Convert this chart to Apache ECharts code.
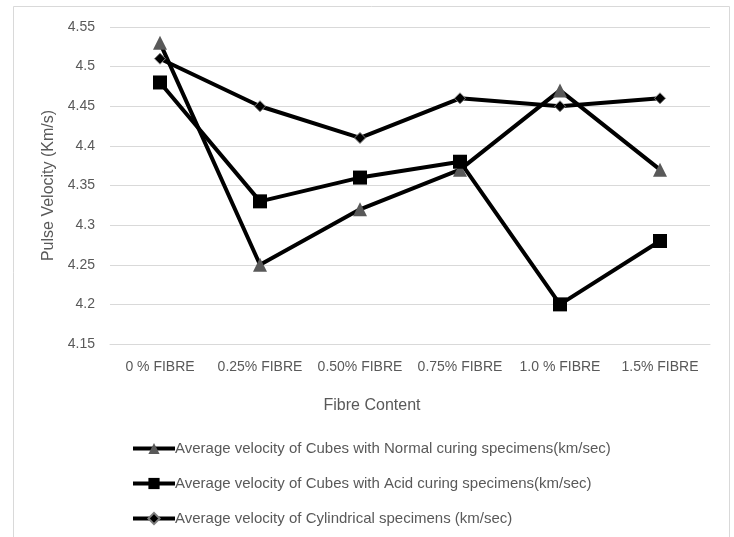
<!DOCTYPE html>
<html>
<head>
<meta charset="utf-8">
<script src="https://cdn.jsdelivr.net/npm/echarts@6/dist/echarts.min.js"></script>
<style>html,body{margin:0;padding:0;background:#fff}#c{width:734px;height:537px}</style>
</head>
<body>
<div id="c"></div>
<script>
var categories = ['0 % FIBRE', '0.25% FIBRE', '0.50% FIBRE', '0.75% FIBRE', '1.0 % FIBRE', '1.5% FIBRE'];
var normalCuring = [4.53, 4.25, 4.32, 4.37, 4.47, 4.37];
var acidCuring = [4.48, 4.33, 4.36, 4.38, 4.20, 4.28];
var cylindrical = [4.51, 4.45, 4.41, 4.46, 4.45, 4.46];
var seriesNames = [
  'Average velocity of Cubes with Normal curing specimens(km/sec)',
  'Average velocity of Cubes with Acid curing specimens(km/sec)',
  'Average velocity of Cylindrical specimens (km/sec)'
];
var yTicks = { min: 4.15, max: 4.55, interval: 0.05 };

var font = 'Liberation Sans';
var txt = '#595959';
var chart = echarts.init(document.getElementById('c'));
chart.setOption({
  animation: false,
  backgroundColor: '#fff',
  textStyle: { fontFamily: font },
  grid: { left: 110, right: 24, top: 27, bottom: 193 },
  graphic: [
    { type: 'rect', shape: { x: 13.5, y: 6.5, width: 716, height: 620 }, style: { fill: 'none', stroke: '#d9d9d9', lineWidth: 1 }, silent: true },
    { type: 'text', style: { text: 'Fibre Content', x: 372, y: 406, textAlign: 'center', textVerticalAlign: 'middle', fill: txt, font: '16px ' + font } }
  ],
  legend: {
    orient: 'vertical',
    left: 126, top: 436,
    itemWidth: 42, itemHeight: 14, itemGap: 20,
    lineStyle: { width: 4, color: '#000' },
    textStyle: { color: txt, fontSize: 15, fontFamily: font, padding: [0, 0, 0, -5] },
    data: seriesNames
  },
  xAxis: {
    type: 'category',
    data: categories,
    boundaryGap: true,
    axisLine: { show: true, lineStyle: { color: '#d9d9d9', width: 1 } },
    axisTick: { show: false },
    axisLabel: { color: txt, fontSize: 14, fontFamily: font, margin: 16, interval: 0 }
  },
  yAxis: {
    type: 'value',
    min: yTicks.min, max: yTicks.max, interval: yTicks.interval,
    name: 'Pulse Velocity (Km/s)',
    nameLocation: 'middle', nameGap: 53, nameRotate: 90,
    nameTextStyle: { color: txt, fontSize: 16, fontFamily: font },
    axisLine: { show: false }, axisTick: { show: false },
    axisLabel: { color: txt, fontSize: 14, fontFamily: font, margin: 15, formatter: function (v) { return String(+v.toFixed(2)); } },
    splitLine: { lineStyle: { color: '#d9d9d9', width: 1 } }
  },
  series: [
    { name: seriesNames[0], type: 'line', data: normalCuring, symbol: 'triangle', symbolSize: 14,
      lineStyle: { color: '#000', width: 4 }, itemStyle: { color: '#595959' } },
    { name: seriesNames[1], type: 'line', data: acidCuring, symbol: 'rect', symbolSize: 14,
      lineStyle: { color: '#000', width: 4 }, itemStyle: { color: '#000' } },
    { name: seriesNames[2], type: 'line', data: cylindrical, symbol: 'diamond', symbolSize: 11,
      lineStyle: { color: '#000', width: 4 }, itemStyle: { color: '#000', borderColor: '#7f7f7f', borderWidth: 1 } }
  ]
});
</script>
</body>
</html>
